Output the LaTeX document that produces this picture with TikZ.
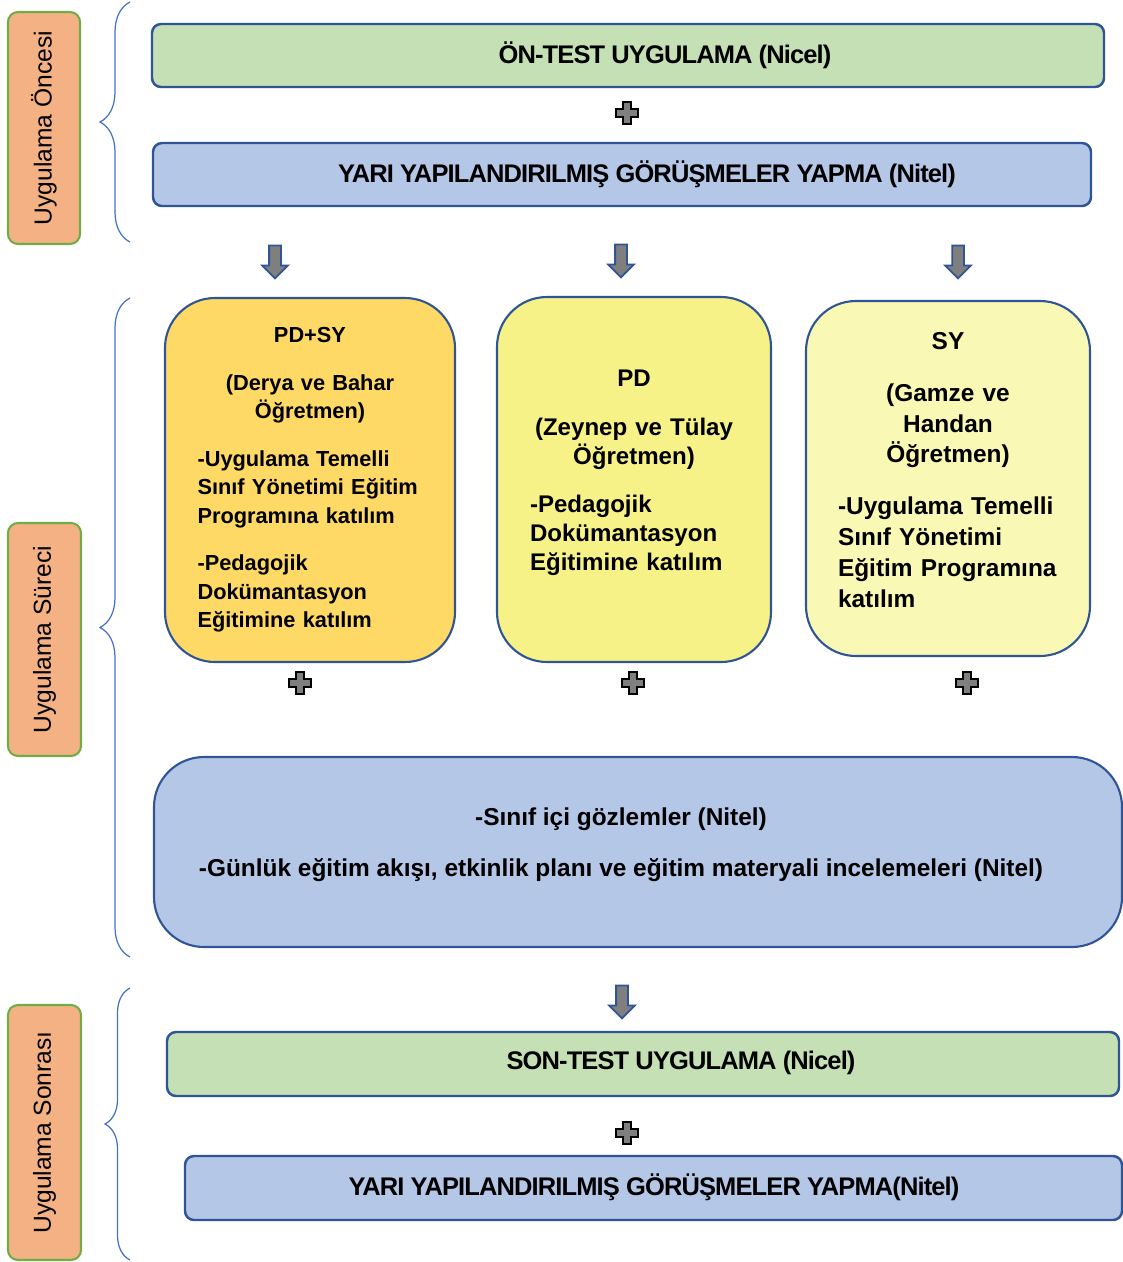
\documentclass[tikz,border=0pt]{standalone}
\usepackage{fontspec}
\setmainfont{Liberation Sans}
\usetikzlibrary{shapes,arrows,positioning,fit,decorations.pathreplacing}

\definecolor{greenfill}{HTML}{C5E0B4}
\definecolor{bluefill}{HTML}{B4C7E7}
\definecolor{boxline}{HTML}{2F5597}
\definecolor{goldfill}{HTML}{FFD966}
\definecolor{yellowfill}{HTML}{F6F287}
\definecolor{paleyellow}{HTML}{FAF8B5}
\definecolor{stagefill}{HTML}{F4B183}
\definecolor{stageline}{HTML}{70AD47}
\definecolor{bracecol}{HTML}{4472C4}
\definecolor{arrowgray}{HTML}{7F7F7F}

\begin{document}
\begin{tikzpicture}[x=0.02cm,y=-0.02cm,
		stagebox/.style={draw=stageline, fill=stagefill, line width=1.2pt, rounded corners=0.2cm, inner sep=0pt},
		stagetext/.style={rotate=90, font=\fontsize{14}{16}\selectfont},
		stagebrace/.style={draw=bracecol, line width=0.7pt, decorate, decoration={brace, amplitude=#1}},
		titlebox/.style={draw=boxline, line width=1.4pt, rounded corners=0.18cm, inner sep=0pt},
		titletext/.style={inner sep=0pt, font=\bfseries\fontsize{14.5}{17}\selectfont\addfontfeature{LetterSpace=-3.4}},
		groupbox/.style={draw=boxline, line width=1.2pt, rounded corners=1cm, inner sep=0pt},
		grouptext/.style={text width=#1, align=left, inner sep=0pt, font=\bfseries},
		downarrow/.style={single arrow, draw=boxline, fill=arrowgray, line width=1pt, rotate=-90, minimum height=0.66cm, inner sep=0.1cm, single arrow head extend=0.14cm},
		plusmark/.pic={
			\draw[fill=arrowgray, line width=1.2pt] (-4,-11) -- (4,-11) -- (4,-4) -- (11,-4) -- (11,4) -- (4,4) -- (4,11) -- (-4,11) -- (-4,4) -- (-11,4) -- (-11,-4) -- (-4,-4) -- cycle;
		}]
		\useasboundingbox (0,0) rectangle (1123,1262);

		% stage labels and braces
		\node[stagebox, fit={(8,12) (80,244)}] (pre) {};
		\node[stagetext] (preText) at (pre.center) {Uygulama Öncesi};
		\node[stagebox, fit={(8,523) (81,756)}] (during) {};
		\node[stagetext] (duringText) at (during.center) {Uygulama Süreci};
		\node[stagebox, fit={(8,1005) (81,1260)}] (post) {};
		\node[stagetext] (postText) at (post.center) {Uygulama Sonrası};
		\draw[stagebrace=0.6cm] (130,242) -- (130,2);
		\draw[stagebrace=0.6cm] (130,957) -- (130,298);
		\draw[stagebrace=0.5cm] (130,1260) -- (130,988);

		% before
		\node[titlebox, fill=greenfill, fit={(152,24) (1104,87)}] (preTest) {};
		\node[titletext] (preTestText) at (665,55.5) {ÖN-TEST UYGULAMA (Nicel)};
		\pic at (627,113) {plusmark};
		\node[titlebox, fill=bluefill, fit={(153,143) (1091,206)}] (preInterview) {};
		\node[titletext] (preInterviewText) at (647,174.5) {YARI YAPILANDIRILMIŞ GÖRÜŞMELER YAPMA (Nitel)};
		\node[downarrow] (arrL) at (275,259) {};
		\node[downarrow] (arrM) at (621,258) {};
		\node[downarrow] (arrR) at (958,259) {};

		% groups
		\node[groupbox, fill=goldfill, fit={(165,298) (455,662)}] (pdsy) {};
		\node[grouptext=4.5cm, font=\bfseries\fontsize{12.4}{16.2}\selectfont] (pdsyText) at (310,480) {%
			\setlength{\parskip}{10.8pt}%
			{\centering PD+SY\par (Derya ve Bahar\\ Öğretmen)\par}
			-Uygulama Temelli\\ Sınıf Yönetimi Eğitim\\ Programına katılım\par
			-Pedagojik\\ Dokümantasyon\\ Eğitimine katılım};
		\node[groupbox, fill=yellowfill, fit={(497,297) (771,662)}] (pd) {};
		\node[grouptext=4.16cm, font=\bfseries\fontsize{13.7}{16.4}\selectfont] (pdText) at (634,473) {%
			\setlength{\parskip}{11.3pt}%
			{\centering PD\par (Zeynep ve Tülay\\ Öğretmen)\par}
			-Pedagojik\\ Dokümantasyon\\ Eğitimine katılım};
		\node[groupbox, fill=paleyellow, fit={(806,301) (1090,656)}] (sy) {};
		\node[grouptext=4.4cm, font=\bfseries\fontsize{13.9}{17.6}\selectfont] (syText) at (948,470) {%
			\setlength{\parskip}{11.6pt}%
			{\centering SY\par (Gamze ve\\ Handan\\ Öğretmen)\par}
			-Uygulama Temelli\\ Sınıf Yönetimi\\ Eğitim Programına\\ katılım};
		\pic at (300,683) {plusmark};
		\pic at (633,683) {plusmark};
		\pic at (967,683) {plusmark};

		% observations
		\node[groupbox, fill=bluefill, fit={(154,757) (1122,947)}] (obs) {};
		\node[font=\bfseries\fontsize{13.9}{17}\selectfont, align=center] (obsText) at (621,845) {-Sınıf içi gözlemler (Nitel)\\[12pt] -Günlük eğitim akışı, etkinlik planı ve eğitim materyali incelemeleri (Nitel)};
		\node[downarrow] (arrB) at (622,999) {};

		% after
		\node[titlebox, fill=greenfill, fit={(167,1032) (1119,1096)}] (postTest) {};
		\node[titletext] (postTestText) at (681,1063) {SON-TEST UYGULAMA (Nicel)};
		\pic at (627,1133) {plusmark};
		\node[titlebox, fill=bluefill, fit={(185,1156) (1122,1220)}] (postInterview) {};
		\node[titletext] (postInterviewText) at (654,1187) {YARI YAPILANDIRILMIŞ GÖRÜŞMELER YAPMA(Nitel)};
\end{tikzpicture}
\end{document}
